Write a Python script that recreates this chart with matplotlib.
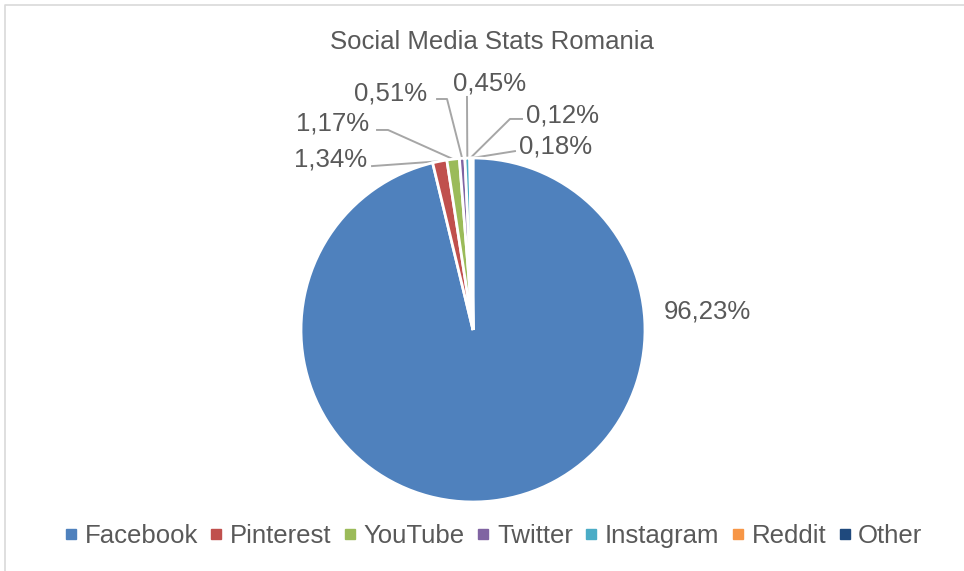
import numpy as np
import matplotlib.pyplot as plt
from matplotlib.lines import Line2D

plt.rcParams['font.family'] = ['Liberation Sans', 'DejaVu Sans']

categories = ['Facebook', 'Pinterest', 'YouTube', 'Twitter', 'Instagram', 'Reddit', 'Other']
shares = [96.23, 1.34, 1.17, 0.51, 0.45, 0.12, 0.18]
colors = ['#4F81BD', '#C0504D', '#9BBB59', '#8064A2', '#4BACC6', '#F79646', '#1F497D']

# label text anchors (data units, pie radius = 1, baseline) and leader lines
label_pos = [(1.363, 0.064), (-0.616, 0.948), (-0.605, 1.157), (-0.267, 1.337),
             (0.099, 1.390), (0.308, 1.209), (0.267, 1.029)]
label_ha = ['center', 'right', 'right', 'right', 'center', 'left', 'left']
line_start = [None, (-0.587, 0.953), (-0.558, 1.163), (-0.209, 1.343),
              (-0.035, 1.355), (0.285, 1.227), (0.244, 1.040)]
elbows = [None, None, (-0.494, 1.163), (-0.151, 1.343), None, (0.215, 1.227), None]

fig = plt.figure(figsize=(9.64, 5.71), dpi=100)
ax = fig.add_axes([301 / 964, 69 / 571, 344 / 964, 344 / 571])

wedges, _ = ax.pie(shares, colors=colors, startangle=90, counterclock=False,
                   wedgeprops=dict(edgecolor='white', linewidth=2.0))
ax.set_xlim(-1, 1)
ax.set_ylim(-1, 1)

txt_color = '#595959'
for i, w in enumerate(wedges):
    lab = f'{shares[i]:.2f}%'.replace('.', ',')
    x, y = label_pos[i]
    ax.text(x, y, lab, ha=label_ha[i], va='baseline', fontsize=18.5, color=txt_color)
    if line_start[i] is None:
        continue
    mid = np.deg2rad((w.theta1 + w.theta2) / 2)
    end = (np.cos(mid), np.sin(mid))
    pts = [line_start[i]]
    if elbows[i] is not None:
        pts.append(elbows[i])
    pts.append(end)
    xs, ys = zip(*pts)
    ax.plot(xs, ys, color='#A6A6A6', lw=1.4, clip_on=False, zorder=0)

fig.text(492 / 964, 1 - 49 / 571, 'Social Media Stats Romania', ha='center', va='baseline',
         fontsize=18.5, color=txt_color)

handles = [Line2D([], [], marker='s', ls='', markersize=6.5, markerfacecolor=c, markeredgecolor=c)
           for c in colors]
fig.legend(handles, categories, loc='center', bbox_to_anchor=(493.5 / 964, 1 - 536 / 571),
           ncol=7, frameon=False, fontsize=18.5, labelcolor=txt_color,
           handletextpad=0.28, columnspacing=0.47, handlelength=0.5,
           borderpad=0, borderaxespad=0)

# chart area border (left and top visible)
fig.add_artist(Line2D([5 / 964, 5 / 964, 1], [0, 1 - 5 / 571, 1 - 5 / 571],
                      color='#D9D9D9', lw=1.2, transform=fig.transFigure))

fig.savefig('out.png', dpi=100)
